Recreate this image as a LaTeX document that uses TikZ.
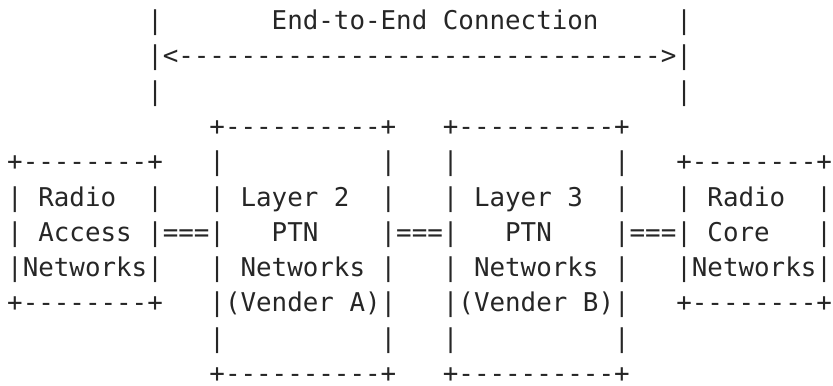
\documentclass[tikz,border=0pt]{standalone}
\usepackage{fontspec}
\setmonofont{DejaVu Sans Mono}
\usepackage{tikz}
\def\chw{15.56pt}
\def\lnh{35.3pt}
\tikzset{ascii/.style={anchor=base west, inner sep=0pt, outer sep=0pt, text depth=0pt, black!85, font=\ttfamily\fontsize{25.85pt}{30pt}\selectfont}}

\begin{document}
\begin{tikzpicture}[x=\chw, y=-\lnh]
\useasboundingbox (-0.463,-0.836) rectangle (53.07,10.071);
% end-to-end span
\node[ascii] (span l) at (9,0) {|};
\node[ascii] (title) at (17,0) {End-to-End Connection};
\node[ascii] (span r) at (43,0) {|};
\node[ascii] (arrow) at (9,1) {|<------------------------------->|};
\node[ascii] (foot l) at (9,2) {|};
\node[ascii] (foot r) at (43,2) {|};
% tops of the PTN boxes
\node[ascii] (ptna top) at (13,3) {+----------+};
\node[ascii] (ptnb top) at (28,3) {+----------+};
\node[ascii] (ran top) at (0,4) {+--------+};
\foreach \c in {13,24,28,39}
  \node[ascii] (wall a\c) at (\c,4) {|};
\node[ascii] (rcn top) at (43,4) {+--------+};
% first text line
\node[ascii] (ran 1) at (0,5) {|~Radio~~|};
\node[ascii] (ptna 1) at (13,5) {|~Layer~2~~|};
\node[ascii] (ptnb 1) at (28,5) {|~Layer~3~~|};
\node[ascii] (rcn 1) at (43,5) {|~Radio~~|};
% second text line, with the links
\node[ascii] (ran 2) at (0,6) {|~Access~|};
\node[ascii] (link a) at (10,6) {===};
\node[ascii] (ptna 2) at (13,6) {|~~~PTN~~~~|};
\node[ascii] (link b) at (25,6) {===};
\node[ascii] (ptnb 2) at (28,6) {|~~~PTN~~~~|};
\node[ascii] (link c) at (40,6) {===};
\node[ascii] (rcn 2) at (43,6) {|~Core~~~|};
% third text line
\node[ascii] (ran 3) at (0,7) {|Networks|};
\node[ascii] (ptna 3) at (13,7) {|~Networks~|};
\node[ascii] (ptnb 3) at (28,7) {|~Networks~|};
\node[ascii] (rcn 3) at (43,7) {|Networks|};
% vendors and bottoms
\node[ascii] (ran bot) at (0,8) {+--------+};
\node[ascii] (ptna 4) at (13,8) {|(Vender~A)|};
\node[ascii] (ptnb 4) at (28,8) {|(Vender~B)|};
\node[ascii] (rcn bot) at (43,8) {+--------+};
\foreach \c in {13,24,28,39}
  \node[ascii] (wall b\c) at (\c,9) {|};
\node[ascii] (ptna bot) at (13,10) {+----------+};
\node[ascii] (ptnb bot) at (28,10) {+----------+};
\end{tikzpicture}
\end{document}
